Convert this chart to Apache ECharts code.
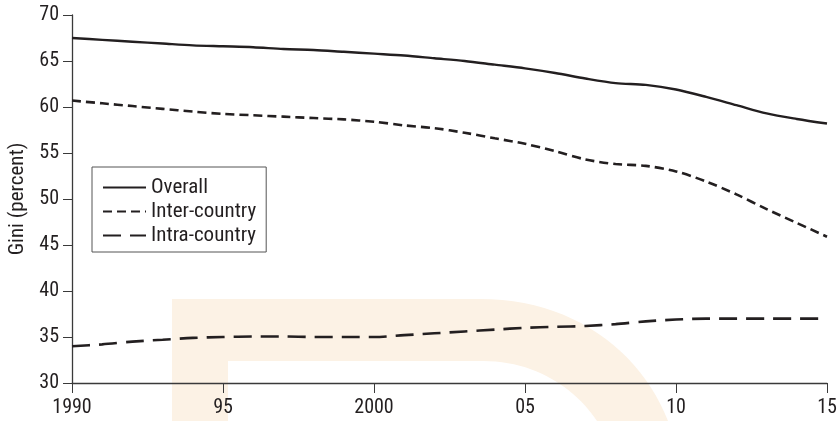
<!DOCTYPE html>
<html>
<head>
<meta charset="utf-8">
<script src="https://cdn.jsdelivr.net/npm/echarts@6/dist/echarts.min.js"></script>
<style>html,body{margin:0;padding:0;background:#fff}#c{width:837px;height:421px}</style>
</head>
<body>
<div id="c"></div>
<script>
const years = [1990,1991,1992,1993,1994,1995,1996,1997,1998,1999,2000,2001,2002,2003,2004,2005,2006,2007,2008,2009,2010,2011,2012,2013,2014,2015];
const overall = [67.5,67.3,67.1,66.9,66.7,66.6,66.5,66.3,66.2,66.0,65.8,65.6,65.3,65.0,64.6,64.2,63.7,63.1,62.6,62.4,61.9,61.1,60.2,59.3,58.7,58.2];
const interCountry = [60.7,60.4,60.1,59.8,59.5,59.25,59.1,58.95,58.8,58.65,58.4,58.0,57.7,57.2,56.6,56.0,55.2,54.3,53.8,53.6,53.0,51.9,50.5,48.9,47.4,45.9];
const intraCountry = [34.0,34.2,34.5,34.7,34.9,35.0,35.05,35.05,35.0,35.0,35.0,35.2,35.4,35.6,35.8,36.0,36.1,36.2,36.4,36.7,36.9,37.0,37.0,37.0,37.0,37.0];
const seriesNames = ['Overall','Inter-country','Intra-country'];
const tickYears = [1990,1995,2000,2005,2010,2015];
const tickLabels = ['1990','95','2000','05','10','15'];
const yAxisTitle = 'Gini (percent)';

const FONT = "'Roboto Condensed','Roboto',sans-serif";
const INK = '#231f20';
const pairs = arr => years.map((y, i) => [y, arr[i]]);

// background watermark shape (decoration only)
function bez(p0, p1, p2, p3, n) {
  const pts = [];
  for (let i = 0; i <= n; i++) {
    const t = i / n, u = 1 - t;
    pts.push([
      u*u*u*p0[0] + 3*u*u*t*p1[0] + 3*u*t*t*p2[0] + t*t*t*p3[0],
      u*u*u*p0[1] + 3*u*u*t*p1[1] + 3*u*t*t*p2[1] + t*t*t*p3[1]
    ]);
  }
  return pts;
}
const wmPts = [[172,299]]
  .concat(bez([480,299],[572,299],[640,350],[668,421],24))
  .concat(bez([597,421],[575,388],[535,361],[483,361],24))
  .concat([[228,361],[228,421],[172,421]]);

const chart = echarts.init(document.getElementById('c'), null, {renderer: 'canvas'});
chart.setOption({
  animation: false,
  backgroundColor: '#fff',
  graphic: [{
    type: 'polygon',
    z: 0,
    silent: true,
    shape: {points: wmPts},
    style: {fill: '#fcf2e5'}
  }],
  grid: {left: 72, right: 10, top: 15, bottom: 38, containLabel: false, outerBoundsMode: 'none'},
  legend: {
    left: 92, top: 167,
    orient: 'vertical',
    data: seriesNames,
    backgroundColor: '#fff',
    borderColor: '#555',
    borderWidth: 1,
    padding: [10, 10, 6, 10],
    itemWidth: 43,
    itemHeight: 14,
    itemGap: 3,
    itemStyle: {opacity: 0},
    textStyle: {fontFamily: FONT, fontSize: 21, color: INK, lineHeight: 20}
  },
  xAxis: {
    type: 'value', min: 1990, max: 2015, interval: 5,
    axisLine: {show: true, lineStyle: {color: '#3a3a3a', width: 1.3}},
    axisTick: {show: true, length: 10, lineStyle: {color: '#3a3a3a', width: 1}},
    splitLine: {show: false},
    axisLabel: {
      margin: 15, fontFamily: FONT, fontSize: 20, color: INK,
      formatter: v => { const k = tickYears.indexOf(Math.round(v)); return k >= 0 ? tickLabels[k] : ''; }
    }
  },
  yAxis: {
    type: 'value', min: 30, max: 70, interval: 5,
    name: yAxisTitle, nameLocation: 'middle', nameRotate: 90, nameGap: 44,
    nameTextStyle: {fontFamily: FONT, fontSize: 21, color: INK},
    axisLine: {show: true, lineStyle: {color: '#3a3a3a', width: 1.3}},
    axisTick: {show: true, length: 9, inside: false, lineStyle: {color: '#3a3a3a', width: 1}},
    splitLine: {show: false},
    axisLabel: {margin: 13, fontFamily: FONT, fontSize: 20, color: INK}
  },
  series: [
    {name: seriesNames[0], type: 'line', data: pairs(overall), smooth: 0.3, symbol: 'none', z: 5,
     lineStyle: {color: INK, width: 2.4, type: 'solid'}, itemStyle: {color: INK}},
    {name: seriesNames[1], type: 'line', data: pairs(interCountry), smooth: 0.3, symbol: 'none', z: 5,
     lineStyle: {color: INK, width: 2.6, type: [9, 5]}, itemStyle: {color: INK}},
    {name: seriesNames[2], type: 'line', data: pairs(intraCountry), smooth: 0.3, symbol: 'none', z: 5,
     lineStyle: {color: INK, width: 2.6, type: [18, 9]}, itemStyle: {color: INK}}
  ]
});
</script>
</body>
</html>
